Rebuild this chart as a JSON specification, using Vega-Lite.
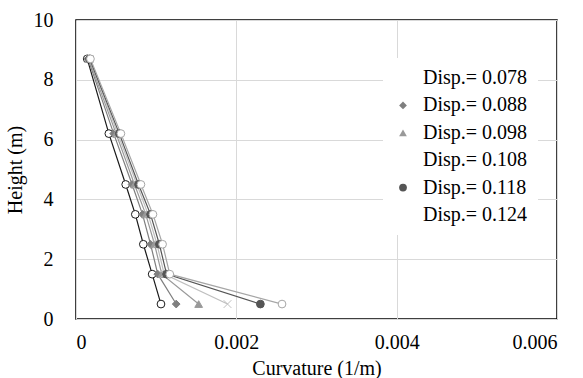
{
  "$schema": "https://vega.github.io/schema/vega-lite/v6.json",
  "width": 481,
  "height": 299,
  "autosize": "none",
  "padding": {"left": 76, "top": 20, "right": 26, "bottom": 59},
  "background": "white",
  "config": {
    "font": "Liberation Serif",
    "style": {"guide-label": {"font": "Liberation Serif", "fontSize": 20, "fill": "black"}, "guide-title": {"font": "Liberation Serif", "fontSize": 20, "fill": "black", "fontWeight": "normal"}},
    "view": {"stroke": "black", "strokeWidth": 1.5},
    "axis": {"labelFont": "Liberation Serif", "titleFont": "Liberation Serif", "labelFontSize": 20, "titleFontSize": 20, "titleFontWeight": "normal", "labelColor": "black", "titleColor": "black", "ticks": false, "domain": false, "gridColor": "#d9d9d9", "gridWidth": 1},
    "legend": {"labelFont": "Liberation Serif", "labelFontSize": 20, "labelColor": "black", "orient": "none", "legendX": 307, "legendY": 38, "fillColor": "white", "padding": 10, "rowPadding": 7.4, "symbolSize": 60, "symbolStrokeWidth": 1, "labelOffset": 10}
  },
  "data": {"values": [
    {"s": "Disp.= 0.078", "h": 8.7, "c": 0.00014},
    {"s": "Disp.= 0.078", "h": 6.2, "c": 0.00041},
    {"s": "Disp.= 0.078", "h": 4.5, "c": 0.00062},
    {"s": "Disp.= 0.078", "h": 3.5, "c": 0.00074},
    {"s": "Disp.= 0.078", "h": 2.5, "c": 0.00084},
    {"s": "Disp.= 0.078", "h": 1.5, "c": 0.00095},
    {"s": "Disp.= 0.078", "h": 0.5, "c": 0.00106},
    {"s": "Disp.= 0.088", "h": 8.7, "c": 0.00015},
    {"s": "Disp.= 0.088", "h": 6.2, "c": 0.00047},
    {"s": "Disp.= 0.088", "h": 4.5, "c": 0.00070},
    {"s": "Disp.= 0.088", "h": 3.5, "c": 0.00083},
    {"s": "Disp.= 0.088", "h": 2.5, "c": 0.00093},
    {"s": "Disp.= 0.088", "h": 1.5, "c": 0.00102},
    {"s": "Disp.= 0.088", "h": 0.5, "c": 0.00125},
    {"s": "Disp.= 0.098", "h": 8.7, "c": 0.00016},
    {"s": "Disp.= 0.098", "h": 6.2, "c": 0.00050},
    {"s": "Disp.= 0.098", "h": 4.5, "c": 0.00073},
    {"s": "Disp.= 0.098", "h": 3.5, "c": 0.00087},
    {"s": "Disp.= 0.098", "h": 2.5, "c": 0.00098},
    {"s": "Disp.= 0.098", "h": 1.5, "c": 0.00107},
    {"s": "Disp.= 0.098", "h": 0.5, "c": 0.00153},
    {"s": "Disp.= 0.108", "h": 8.7, "c": 0.00017},
    {"s": "Disp.= 0.108", "h": 6.2, "c": 0.00052},
    {"s": "Disp.= 0.108", "h": 4.5, "c": 0.00076},
    {"s": "Disp.= 0.108", "h": 3.5, "c": 0.00090},
    {"s": "Disp.= 0.108", "h": 2.5, "c": 0.00101},
    {"s": "Disp.= 0.108", "h": 1.5, "c": 0.00110},
    {"s": "Disp.= 0.108", "h": 0.5, "c": 0.00189},
    {"s": "Disp.= 0.118", "h": 8.7, "c": 0.00017},
    {"s": "Disp.= 0.118", "h": 6.2, "c": 0.00054},
    {"s": "Disp.= 0.118", "h": 4.5, "c": 0.00078},
    {"s": "Disp.= 0.118", "h": 3.5, "c": 0.00093},
    {"s": "Disp.= 0.118", "h": 2.5, "c": 0.00104},
    {"s": "Disp.= 0.118", "h": 1.5, "c": 0.00113},
    {"s": "Disp.= 0.118", "h": 0.5, "c": 0.00230},
    {"s": "Disp.= 0.124", "h": 8.7, "c": 0.00018},
    {"s": "Disp.= 0.124", "h": 6.2, "c": 0.00056},
    {"s": "Disp.= 0.124", "h": 4.5, "c": 0.00081},
    {"s": "Disp.= 0.124", "h": 3.5, "c": 0.00096},
    {"s": "Disp.= 0.124", "h": 2.5, "c": 0.00108},
    {"s": "Disp.= 0.124", "h": 1.5, "c": 0.00117},
    {"s": "Disp.= 0.124", "h": 0.5, "c": 0.00257}
  ]},
  "encoding": {
    "x": {"field": "c", "type": "quantitative", "title": "Curvature (1/m)", "scale": {"domain": [0, 0.006], "nice": false}, "axis": {"values": [0, 0.002, 0.004, 0.006], "format": ".3~f", "labelPadding": 13, "titlePadding": 6, "labelFont": "Liberation Serif", "titleFont": "Liberation Serif", "labelFontSize": 20, "titleFontSize": 20, "encode": {"labels": {"font": {"value": "Liberation Serif"}}}}},
    "y": {"field": "h", "type": "quantitative", "title": "Height (m)", "scale": {"domain": [0, 10], "nice": false}, "axis": {"values": [0, 2, 4, 6, 8, 10], "labelPadding": 23, "titlePadding": 8, "labelFont": "Liberation Serif", "titleFont": "Liberation Serif", "labelFontSize": 20, "titleFontSize": 20, "encode": {"labels": {"font": {"value": "Liberation Serif"}}}}}
  },
  "layer": [
    {
      "mark": {"type": "line", "strokeWidth": 1.2},
      "encoding": {
        "stroke": {"field": "s", "type": "nominal", "legend": null, "scale": {"range": ["#1a1a1a", "#7f7f7f", "#999999", "#bfbfbf", "#555555", "#a6a6a6"]}},
        "order": {"field": "h", "type": "quantitative"}
      }
    },
    {
      "mark": {"type": "point", "filled": true, "size": 60, "strokeWidth": 1, "opacity": 1},
      "encoding": {
        "stroke": {"field": "s", "type": "nominal", "legend": null},
        "fill": {"field": "s", "type": "nominal", "legend": null, "scale": {"range": ["#ffffff", "#7f7f7f", "#999999", "#bfbfbf", "#555555", "#ffffff"]}},
        "shape": {"field": "s", "type": "nominal", "title": null, "legend": {"title": null, "symbolStrokeWidth": 1, "encode": {"symbols": {
          "stroke": {"condition": [
            {"test": "datum.value === 'Disp.= 0.078'", "value": "#1a1a1a"},
            {"test": "datum.value === 'Disp.= 0.088'", "value": "#7f7f7f"},
            {"test": "datum.value === 'Disp.= 0.098'", "value": "#999999"},
            {"test": "datum.value === 'Disp.= 0.108'", "value": "#bfbfbf"},
            {"test": "datum.value === 'Disp.= 0.118'", "value": "#555555"}
          ], "value": "#8c8c8c"},
          "fill": {"condition": [
            {"test": "datum.value === 'Disp.= 0.078'", "value": "#ffffff"},
            {"test": "datum.value === 'Disp.= 0.088'", "value": "#7f7f7f"},
            {"test": "datum.value === 'Disp.= 0.098'", "value": "#999999"},
            {"test": "datum.value === 'Disp.= 0.108'", "value": "#bfbfbf"},
            {"test": "datum.value === 'Disp.= 0.118'", "value": "#555555"}
          ], "value": "#ffffff"},
          "strokeWidth": {"value": 1},
          "opacity": {"value": 1}
        }}}, "scale": {"range": ["circle", "diamond", "triangle-up", "M-1,-1L1,1M1,-1L-1,1", "circle", "circle"]}}
      }
    }
  ]
}
